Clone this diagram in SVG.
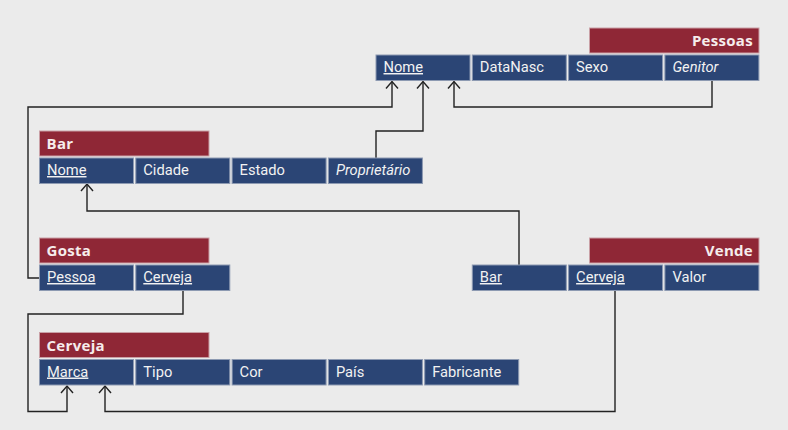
<svg xmlns="http://www.w3.org/2000/svg" width="788" height="430" viewBox="0 0 788 430">
<style>
.bg{fill:#ebebeb}
.hd{fill:#8f2736;stroke:#c9a0a6;stroke-width:1}
.cell{fill:#2b4575;stroke:#8d9ab2;stroke-width:1}
.ht{font-family:"Open Sans","DejaVu Sans",sans-serif;font-weight:bold;font-size:15px;letter-spacing:0.3px;fill:#f6ecec}
.ft{font-family:Roboto,"Liberation Sans",sans-serif;font-size:14.7px;fill:#f2f2f2}
.u{text-decoration:underline}
.i{font-style:italic}
.con path{fill:none;stroke:#222;stroke-width:1.4}
</style>
<defs>
<marker id="arr" markerUnits="userSpaceOnUse" markerWidth="16" markerHeight="16" viewBox="-8 -8 16 16" refX="0" refY="0" orient="auto" overflow="visible">
<path d="M-7,-6 L0,0 L-7,6" fill="none" stroke="#222" stroke-width="1.4"/>
</marker>
</defs>
<rect class="bg" x="0" y="0" width="788" height="430"/>

<g id="connectors" class="con">
<path d="M39,278 H28 V107 H392 V81.5" marker-end="url(#arr)"/>
<path d="M376,158 V131 H423 V81.5" marker-end="url(#arr)"/>
<path d="M712,80 V107 H454 V81.5" marker-end="url(#arr)"/>
<path d="M519,265 V211 H87 V184" marker-end="url(#arr)"/>
<path d="M183,291 V314 H28 V411.5 H67 V386" marker-end="url(#arr)"/>
<path d="M615,291 V411.5 H105 V386" marker-end="url(#arr)"/>
</g>

<g id="pessoas">
<rect class="hd" x="589.5" y="28" width="169.5" height="25"/>
<text class="ht" x="753" y="46" text-anchor="end">Pessoas</text>
<rect class="cell" x="376" y="55" width="94" height="25.5"/>
<rect class="cell" x="472.3" y="55" width="94" height="25.5"/>
<rect class="cell" x="568.6" y="55" width="94" height="25.5"/>
<rect class="cell" x="664.9" y="55" width="94" height="25.5"/>
<text class="ft u" x="383.5" y="72">Nome</text>
<text class="ft" x="479.8" y="72">DataNasc</text>
<text class="ft" x="576.1" y="72">Sexo</text>
<text class="ft i" x="672.4" y="72">Genitor</text>
</g>

<g id="bar">
<rect class="hd" x="39.5" y="131" width="169.5" height="25"/>
<text class="ht" x="46.5" y="149">Bar</text>
<rect class="cell" x="39.5" y="158" width="94" height="25.5"/>
<rect class="cell" x="135.8" y="158" width="94" height="25.5"/>
<rect class="cell" x="232.1" y="158" width="94" height="25.5"/>
<rect class="cell" x="328.4" y="158" width="94" height="25.5"/>
<text class="ft u" x="47" y="175">Nome</text>
<text class="ft" x="143.3" y="175">Cidade</text>
<text class="ft" x="239.6" y="175">Estado</text>
<text class="ft i" x="335.9" y="175">Proprietário</text>
</g>

<g id="gosta">
<rect class="hd" x="39.5" y="238" width="169.5" height="25"/>
<text class="ht" x="46.5" y="256">Gosta</text>
<rect class="cell" x="39.5" y="265" width="94" height="25.5"/>
<rect class="cell" x="135.8" y="265" width="94" height="25.5"/>
<text class="ft u" x="47" y="282">Pessoa</text>
<text class="ft u" x="143.3" y="282">Cerveja</text>
</g>

<g id="vende">
<rect class="hd" x="589.5" y="238" width="169.5" height="25"/>
<text class="ht" x="753" y="256" text-anchor="end">Vende</text>
<rect class="cell" x="472.3" y="265" width="94" height="25.5"/>
<rect class="cell" x="568.6" y="265" width="94" height="25.5"/>
<rect class="cell" x="664.9" y="265" width="94" height="25.5"/>
<text class="ft u" x="479.8" y="282">Bar</text>
<text class="ft u" x="576.1" y="282">Cerveja</text>
<text class="ft" x="672.4" y="282">Valor</text>
</g>

<g id="cerveja">
<rect class="hd" x="39.5" y="332.5" width="169.5" height="25"/>
<text class="ht" x="46.5" y="350.5">Cerveja</text>
<rect class="cell" x="39.5" y="359.5" width="94" height="25.5"/>
<rect class="cell" x="135.8" y="359.5" width="94" height="25.5"/>
<rect class="cell" x="232.1" y="359.5" width="94" height="25.5"/>
<rect class="cell" x="328.4" y="359.5" width="94" height="25.5"/>
<rect class="cell" x="424.7" y="359.5" width="94" height="25.5"/>
<text class="ft u" x="47" y="376.5">Marca</text>
<text class="ft" x="143.3" y="376.5">Tipo</text>
<text class="ft" x="239.6" y="376.5">Cor</text>
<text class="ft" x="335.9" y="376.5">País</text>
<text class="ft" x="432.2" y="376.5">Fabricante</text>
</g>
</svg>
